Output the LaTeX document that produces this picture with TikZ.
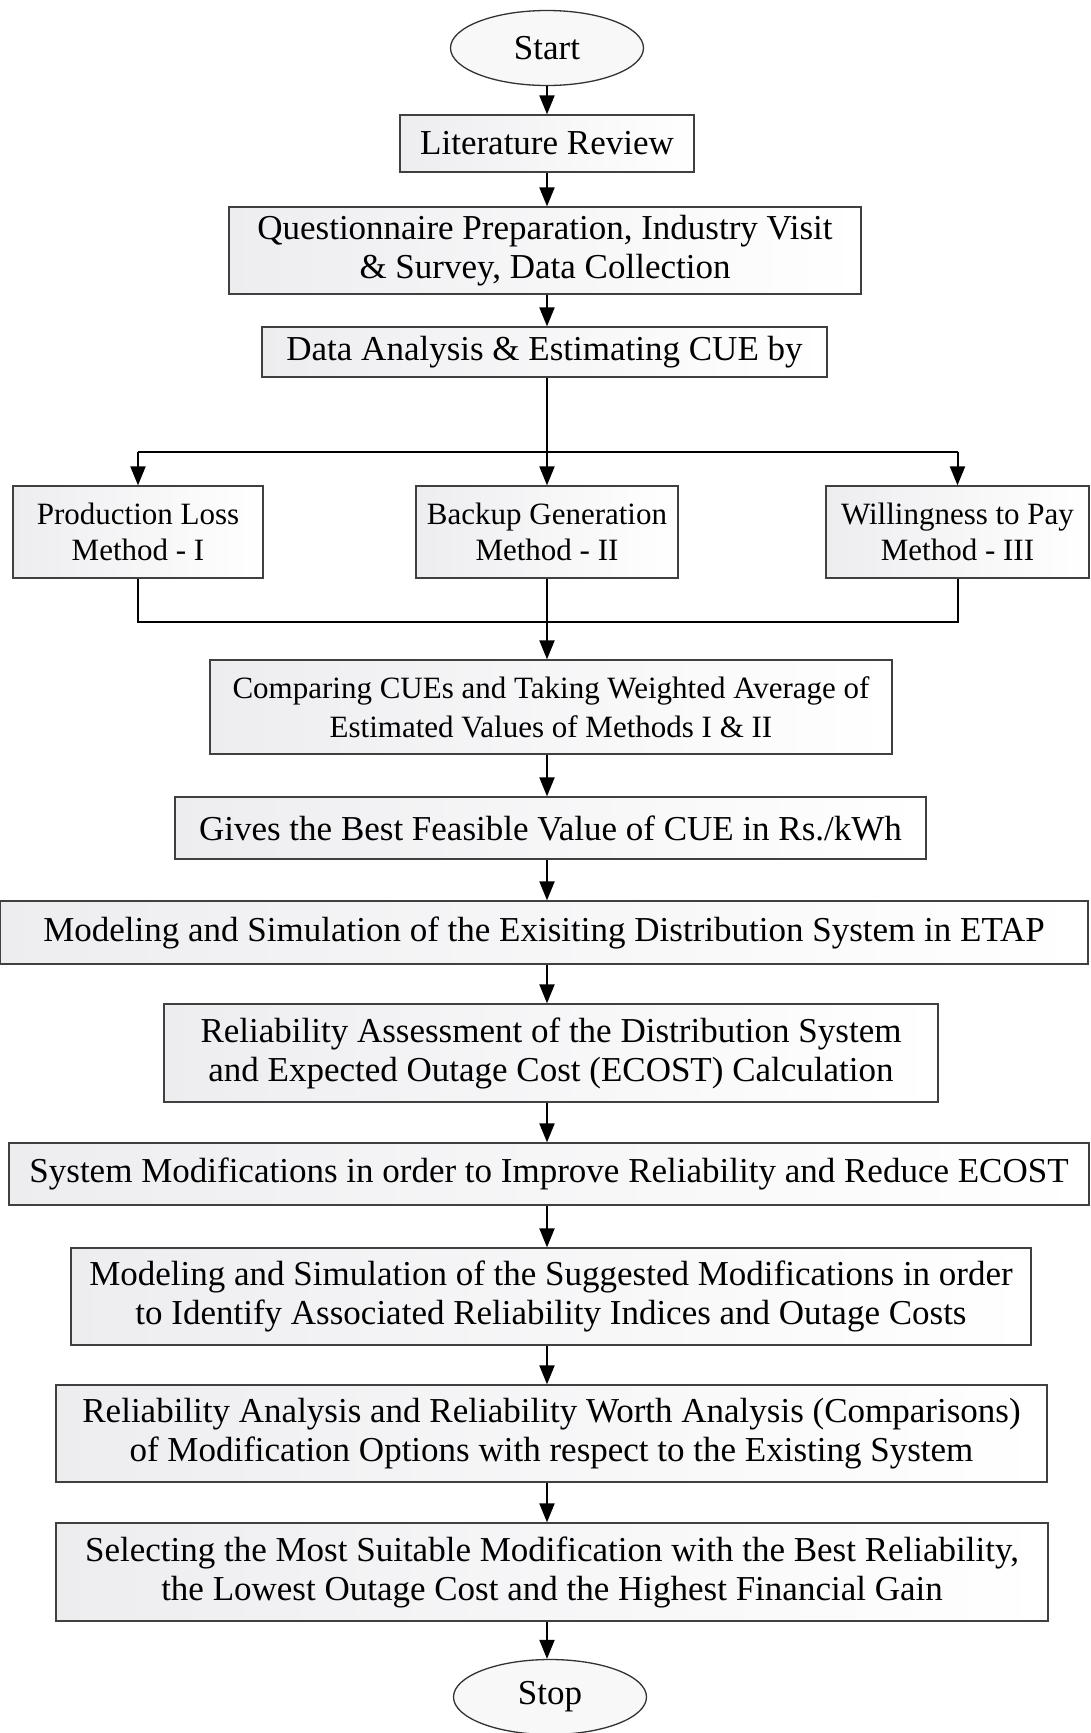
\documentclass[tikz,border=0pt]{standalone}
\usepackage{fontspec}
\setmainfont{Liberation Serif}
\usetikzlibrary{positioning,shapes.geometric,arrows.meta}

\tikzset{
  stepbox/.style={draw=black!75, line width=1.3pt, left color=blue!8!gray!13, right color=white,
                  align=center, inner sep=0pt, font=\fontsize{35}{39}\selectfont},
  methodbox/.style={stepbox, minimum width=256pt, minimum height=92pt, font=\fontsize{31}{36}\selectfont},
  terminal/.style={ellipse, draw=black!80, line width=1.3pt, fill=blue!3!gray!5, inner sep=0pt,
                   minimum width=193pt, minimum height=75pt, font=\fontsize{35}{39}\selectfont},
  flow/.style={line width=2pt, -{Triangle[length=19pt,width=15pt]}},
  link/.style={line width=2pt}
}

\begin{document}
\begin{tikzpicture}[x=1pt, y=-1pt]
  \useasboundingbox (0,0) rectangle (1091,1733);

  % main column
  \node[terminal] (start) at (547,48) {Start};
  \node[stepbox, minimum width=294pt, minimum height=57pt] (lit) at (547,143.5) {Literature Review};
  \node[stepbox, minimum width=632pt, minimum height=87pt] (quest) at (545,250.5)
    {Questionnaire Preparation, Industry Visit\\ \& Survey, Data Collection};
  \node[stepbox, minimum width=565pt, minimum height=50pt] (data) at (544.5,352) {Data Analysis \& Estimating CUE by};

  % three methods
  \node[methodbox, minimum width=250pt] (plm) at (138,532) {Production Loss\\ Method - I};
  \node[methodbox, minimum width=262pt] (bgm) at (547,532) {Backup Generation\\ Method - II};
  \node[methodbox, minimum width=263pt] (wtp) at (957.5,532) {Willingness to Pay\\ Method - III};

  \node[stepbox, minimum width=682pt, minimum height=94pt, font=\fontsize{31}{39}\selectfont] (comp) at (551,707)
    {Comparing CUEs and Taking Weighted Average of\\ Estimated Values of Methods I \& II};
  \node[stepbox, minimum width=751pt, minimum height=62pt] (gives) at (550.5,828)
    {Gives the Best Feasible Value of CUE in Rs./kWh};
  \node[stepbox, minimum width=1088pt, minimum height=63pt] (etap) at (544,932.5)
    {Modeling and Simulation of the Exisiting Distribution System in ETAP};
  \node[stepbox, minimum width=774pt, minimum height=98pt] (relass) at (551,1053)
    {Reliability Assessment of the Distribution System\\ and Expected Outage Cost (ECOST) Calculation};
  \node[stepbox, minimum width=1080pt, minimum height=62pt] (sysmod) at (549,1174)
    {System Modifications in order to Improve Reliability and Reduce ECOST};
  \node[stepbox, minimum width=960pt, minimum height=97pt] (modsug) at (551,1296.5)
    {Modeling and Simulation of the Suggested Modifications in order\\ to Identify Associated Reliability Indices and Outage Costs};
  \node[stepbox, minimum width=991pt, minimum height=97pt] (relan) at (551.5,1433.5)
    {Reliability Analysis and Reliability Worth Analysis (Comparisons)\\ of Modification Options with respect to the Existing System};
  \node[stepbox, minimum width=992pt, minimum height=98pt] (select) at (552,1572)
    {Selecting the Most Suitable Modification with the Best Reliability,\\ the Lowest Outage Cost and the Highest Financial Gain};
  \node[terminal] (stop) at (550,1697) {Stop};

  % branching
  \coordinate (split) at (547,452);
  \coordinate (merge) at (549,622);
  \draw[flow] (data.south -| split) -- (bgm.north);
  \draw[link] (plm.north |- split) -- (wtp.north |- split);
  \draw[flow] (plm.north |- split) -- (plm.north);
  \draw[flow] (wtp.north |- split) -- (wtp.north);
  \draw[link] (plm.south) -- (plm.south |- merge) -- (wtp.south |- merge) -- (wtp.south);
  \draw[flow] (bgm.south) -- (bgm.south |- comp.north);

  % straight arrows
  \draw[flow] (start) -- (lit);
  \draw[flow] (lit) -- (quest.north -| lit);
  \draw[flow] (quest.south -| lit) -- (data.north -| lit);
  \draw[flow] (comp.south -| lit) -- (gives.north -| lit);
  \draw[flow] (gives.south -| lit) -- (etap.north -| lit);
  \draw[flow] (etap.south -| lit) -- (relass.north -| lit);
  \draw[flow] (relass.south -| lit) -- (sysmod.north -| lit);
  \draw[flow] (sysmod.south -| lit) -- (modsug.north -| lit);
  \draw[flow] (modsug.south -| lit) -- (relan.north -| lit);
  \draw[flow] (relan.south -| lit) -- (select.north -| lit);
  \draw[flow] (select.south -| lit) -- (stop.north -| lit);
\end{tikzpicture}
\end{document}
